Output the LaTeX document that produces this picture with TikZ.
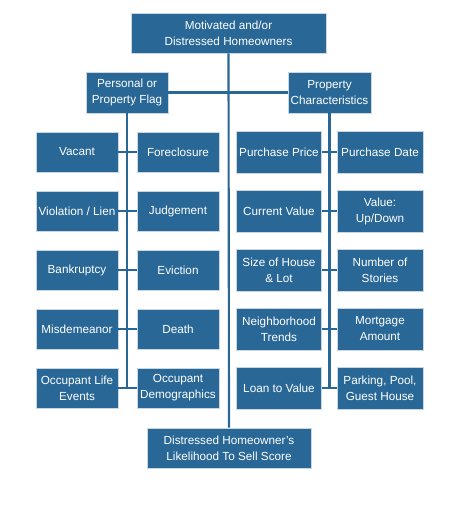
\documentclass[tikz,border=0pt]{standalone}
\usepackage{fontspec}
\setmainfont{Liberation Sans}
\definecolor{boxblue}{HTML}{296896}
\definecolor{boxedge}{HTML}{C9D7E3}
\begin{document}
\begin{tikzpicture}[x=0.75pt,y=-0.75pt,
  bx/.style={draw=boxedge,line width=0.6pt,fill=boxblue,text=white,align=center,inner sep=0pt,
    font=\fontsize{8.8}{12}\selectfont},
  conn/.style={draw=boxblue,line width=1.6pt}]
\useasboundingbox (0,0) rectangle (469,521);
% top and bottom
\node[bx,minimum width=195*0.75pt,minimum height=40*0.75pt] (top) at (228.5,33) {Motivated and/or\\Distressed Homeowners};
\node[bx,minimum width=164*0.75pt,minimum height=40*0.75pt] (score) at (229,448) {Distressed Homeowner's\\Likelihood To Sell Score};
% second level
\node[bx,minimum width=82*0.75pt,minimum height=41*0.75pt] (pers) at (127,92.5) {Personal or\\Property Flag};
\node[bx,minimum width=83*0.75pt,minimum height=41*0.75pt] (prop) at (329.5,92.5) {Property\\Characteristics};
% left columns
\tikzset{lb/.style={bx,minimum width=82*0.75pt,minimum height=40*0.75pt},
         rb/.style={bx,minimum height=42*0.75pt}}
\node[lb] (l1a) at (77,152) {Vacant};
\node[lb] (l1b) at (178,152) {Foreclosure};
\node[lb] (l2a) at (77,211) {Violation / Lien};
\node[lb] (l2b) at (178,211) {Judgement};
\node[lb] (l3a) at (77,270) {Bankruptcy};
\node[lb] (l3b) at (178,270) {Eviction};
\node[lb] (l4a) at (77,329) {Misdemeanor};
\node[lb] (l4b) at (178,329) {Death};
\node[lb] (l5a) at (77,388) {Occupant Life\\Events};
\node[lb] (l5b) at (178,388) {Occupant\\Demographics};
% right columns
\tikzset{ra/.style={rb,minimum width=85*0.75pt},rc/.style={rb,minimum width=86*0.75pt}}
\node[ra] (r1a) at (279,152) {Purchase Price};
\node[rc] (r1b) at (380,152) {Purchase Date};
\node[ra] (r2a) at (279,211) {Current Value};
\node[rc] (r2b) at (380,211) {Value:\\Up/Down};
\node[ra] (r3a) at (279,270) {Size of House\\\& Lot};
\node[rc] (r3b) at (380,270) {Number of\\Stories};
\node[ra] (r4a) at (279,329) {Neighborhood\\Trends};
\node[rc] (r4b) at (380,329) {Mortgage\\Amount};
\node[ra] (r5a) at (279,388) {Loan to Value};
\node[rc] (r5b) at (380,388) {Parking, Pool,\\Guest House};
% connectors
\draw[conn] (top.south) -- (score.north);
\draw[conn] (pers.east) -- (prop.west);
\coordinate (lend) at (pers.south |- l5a.east);
\coordinate (rend) at (prop.south |- r5a.east);
\draw[conn] (pers.south) -- (lend);
\draw[conn] (prop.south) -- (rend);
\foreach \r in {1,...,5}{
  \draw[conn] (l\r a.east) -- (l\r b.west);
  \draw[conn] (r\r a.east) -- (r\r b.west);
}
\end{tikzpicture}
\end{document}
